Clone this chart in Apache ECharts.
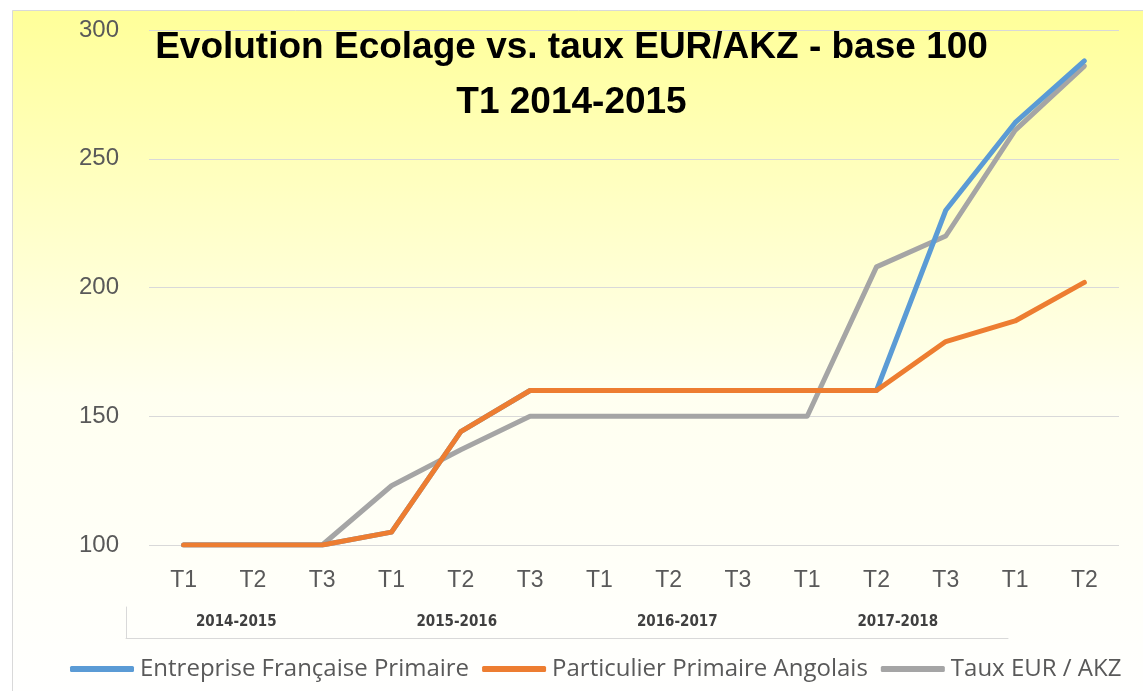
<!DOCTYPE html>
<html>
<head>
<meta charset="utf-8">
<title>Evolution Ecolage vs. taux EUR/AKZ</title>
<script src="https://cdn.jsdelivr.net/npm/echarts@6/dist/echarts.min.js"></script>
<style>
    html, body { margin: 0; padding: 0; background: #fff; }
    #chart { width: 1143px; height: 691px; }
</style>
</head>
<body>
<div id="chart"></div>
<script>
"use strict";
// trimestres (axe x) et annees scolaires (axe groupe)
var quarters = ['T1', 'T2', 'T3', 'T1', 'T2', 'T3', 'T1', 'T2', 'T3', 'T1', 'T2', 'T3', 'T1', 'T2'];
var years = ['2014-2015', '2015-2016', '2016-2017', '2017-2018'];

// valeurs base 100
var entreprise = [100, 100, 100, 105, 144, 160, 160, 160, 160, 160, 160, 230, 264, 288];
var particulier = [100, 100, 100, 105, 144, 160, 160, 160, 160, 160, 160, 179, 187, 202];
var taux = [100, 100, 100, 123, 137, 150, 150, 150, 150, 150, 208, 220, 261, 286];

var yTicks = [100, 150, 200, 250, 300];

var labelColor = '#595959';
var gridColor = '#d9d9d9';

var chart = echarts.init(document.getElementById('chart'));

function lineSerie(name, data, color, z) {
    return {
        name: name,
        type: 'line',
        xAxisIndex: 0,
        yAxisIndex: 0,
        data: data,
        symbol: 'none',
        z: z,
        lineStyle: { color: color, width: 5, cap: 'round', join: 'round' },
        itemStyle: { color: color },
        emphasis: { disabled: true }
    };
}

var option = {
    backgroundColor: '#ffffff',
    animation: false,
    graphic: [{
        type: 'rect',
        z: -10,
        silent: true,
        shape: { x: 12.5, y: 10.5, width: 1200, height: 700 },
        style: {
            fill: new echarts.graphic.LinearGradient(0, 0, 0, 1, [
                { offset: 0, color: '#ffff99' },
                { offset: 0.55, color: '#fffff0' },
                { offset: 1, color: '#ffffff' }
            ]),
            stroke: '#d9d9d9',
            lineWidth: 1
        }
    }],
    title: {
        text: 'Evolution Ecolage vs. taux EUR/AKZ - base 100\nT1 2014-2015',
        left: 'center',
        top: 15,
        textStyle: {
            fontFamily: 'Liberation Sans',
            fontSize: 37,
            fontWeight: 'bold',
            color: '#000000',
            lineHeight: 55
        }
    },
    legend: {
        bottom: 5,
        left: 65,
        icon: 'roundRect',
        itemWidth: 64,
        itemHeight: 6,
        itemGap: 13,
        textStyle: { fontFamily: 'Open Sans', fontSize: 24, color: labelColor, padding: [0, 0, 0, 1] },
        data: ['Entreprise Française Primaire', 'Particulier Primaire Angolais', 'Taux EUR / AKZ']
    },
    grid: [
        { left: 149, right: 24, top: 30, bottom: 146 },
        { left: 126, width: 882, top: 607, height: 31 }
    ],
    xAxis: [
        {
            gridIndex: 0,
            type: 'category',
            data: quarters,
            boundaryGap: true,
            axisLine: { show: false },
            axisTick: { show: false },
            axisLabel: { fontFamily: 'Liberation Sans', fontSize: 23, color: labelColor, margin: 24 }
        },
        {
            gridIndex: 1,
            type: 'category',
            position: 'top',
            data: years,
            boundaryGap: true,
            axisLine: { show: true, lineStyle: { color: gridColor, width: 1 } },
            axisTick: { show: false },
            axisLabel: {
                inside: true,
                margin: 8,
                fontFamily: ['Liberation Sans Narrow', 'DejaVu Sans Condensed', 'Liberation Sans'],
                fontSize: 15,
                fontWeight: 'bold',
                color: '#404040'
            }
        }
    ],
    yAxis: [
        {
            gridIndex: 0,
            type: 'value',
            min: 100,
            max: 300,
            interval: 50,
            axisLine: { show: false },
            axisTick: { show: false },
            splitLine: { show: true, lineStyle: { color: gridColor, width: 1 } },
            axisLabel: {
                fontFamily: 'Liberation Sans',
                fontSize: 24,
                color: labelColor,
                margin: 30,
                formatter: function (v) {
                    return yTicks.indexOf(v) >= 0 ? String(v) : '';
                }
            }
        },
        {
            gridIndex: 1,
            type: 'value',
            min: 0,
            max: 1,
            axisLine: { show: true, lineStyle: { color: gridColor, width: 1 } },
            axisTick: { show: false },
            axisLabel: { show: false },
            splitLine: { show: false }
        }
    ],
    series: [
        lineSerie('Entreprise Française Primaire', entreprise, '#5b9bd5', 3),
        lineSerie('Particulier Primaire Angolais', particulier, '#ed7d31', 4),
        lineSerie('Taux EUR / AKZ', taux, '#a5a5a5', 2)
    ]
};

chart.setOption(option);
</script>
</body>
</html>
